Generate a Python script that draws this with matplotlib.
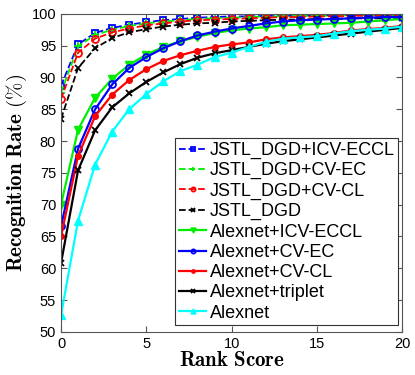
import matplotlib
matplotlib.use("Agg")
import matplotlib.pyplot as plt

plt.rcParams['font.family'] = ['Liberation Sans', 'DejaVu Sans']
plt.rcParams['mathtext.fontset'] = 'cm'

rank = list(range(21))

jstl_icv_eccl = [88.7, 95.2, 97.0, 97.8, 98.3, 98.7, 99.0, 99.2, 99.4, 99.5, 99.6,
                 99.6, 99.7, 99.7, 99.7, 99.8, 99.8, 99.8, 99.8, 99.8, 99.9]
jstl_cv_ec = [87.6, 94.9, 96.7, 97.5, 98.1, 98.5, 98.8, 99.0, 99.2, 99.3, 99.4,
              99.5, 99.6, 99.6, 99.7, 99.7, 99.7, 99.8, 99.8, 99.8, 99.8]
jstl_cv_cl = [86.6, 93.9, 96.1, 97.1, 97.7, 98.2, 98.5, 98.8, 99.0, 99.1, 99.2,
              99.3, 99.4, 99.5, 99.5, 99.6, 99.6, 99.7, 99.7, 99.7, 99.8]
jstl = [83.5, 91.5, 94.6, 96.2, 97.1, 97.6, 98.0, 98.3, 98.5, 98.6, 98.8,
        98.9, 99.0, 99.1, 99.1, 99.2, 99.2, 99.3, 99.3, 99.3, 99.4]
alex_icv_eccl = [70.0, 81.8, 86.8, 89.8, 92.0, 93.6, 94.8, 95.7, 96.4, 97.0, 97.4,
                 97.7, 97.9, 98.2, 98.3, 98.4, 98.5, 98.6, 98.8, 99.0, 99.2]
alex_cv_ec = [66.6, 78.8, 85.0, 88.9, 91.5, 93.2, 94.6, 95.7, 96.6, 97.2, 97.7,
              98.1, 98.5, 98.8, 99.0, 99.1, 99.2, 99.3, 99.4, 99.5, 99.5]
alex_cv_cl = [65.0, 77.7, 83.9, 87.3, 89.6, 91.3, 92.6, 93.5, 94.2, 94.8, 95.2,
              95.5, 96.0, 96.3, 96.5, 96.7, 97.0, 97.4, 97.6, 97.8, 98.1]
alex_triplet = [60.8, 75.4, 81.7, 85.3, 87.5, 89.3, 90.8, 92.1, 93.1, 93.8, 94.3,
                94.8, 95.3, 95.7, 96.0, 96.3, 96.6, 96.9, 97.2, 97.5, 97.8]
alex = [52.6, 67.5, 76.3, 81.5, 85.0, 87.4, 89.4, 91.0, 92.0, 93.2, 93.9,
        94.8, 95.6, 96.1, 96.3, 96.5, 96.9, 97.3, 97.5, 97.7, 98.0]

fig = plt.figure(figsize=(4.15, 3.75), dpi=100)
ax = fig.add_axes([0.147, 0.115, 0.822, 0.848])

ax.plot(rank, jstl_icv_eccl, '--s', color='blue', lw=1.3, ms=5, mfc='none', mew=1.3, label='JSTL_DGD+ICV-ECCL')
ax.plot(rank, jstl_cv_ec, '--+', color='#00ee00', lw=1.3, ms=6, mew=1.3, label='JSTL_DGD+CV-EC')
ax.plot(rank, jstl_cv_cl, '--o', color='red', lw=1.3, ms=5, mfc='none', mew=1.3, label='JSTL_DGD+CV-CL')
ax.plot(rank, jstl, '--x', color='black', lw=1.3, ms=4, mew=1.3, label='JSTL_DGD')
ax.plot(rank, alex_icv_eccl, '-v', color='#00ee00', lw=1.6, ms=6, label='Alexnet+ICV-ECCL')
ax.plot(rank, alex_cv_ec, '-o', color='blue', lw=1.6, ms=5, mfc='none', mew=1.3, label='Alexnet+CV-EC')
ax.plot(rank, alex_cv_cl, color='red', marker='.', linestyle='-', lw=1.6, ms=8, label='Alexnet+CV-CL')
ax.plot(rank, alex_triplet, '-x', color='black', lw=1.6, ms=4, mew=1.3, label='Alexnet+triplet')
ax.plot(rank, alex, '-^', color='cyan', lw=1.6, ms=6, label='Alexnet')

ax.set_xlim(0, 20)
ax.set_ylim(50, 100)
ax.set_xticks([0, 5, 10, 15, 20])
ax.set_yticks(range(50, 101, 5))
ax.tick_params(direction='in', top=True, right=True, labelsize=10.5, length=4, color='#555555')
for s in ax.spines.values():
    s.set_color('#555555')

ax.set_xlabel(r'$\mathbf{Rank\ Score}$', fontsize=15, labelpad=0)
ax.set_ylabel(r'$\mathbf{Recognition\ Rate\ (\%)}$', fontsize=15, labelpad=2)

leg = ax.legend(loc='lower right', bbox_to_anchor=(0.989, 0.021), fontsize=13,
                handlelength=1.5, handletextpad=0.2, labelspacing=0.18,
                borderpad=0.2, fancybox=False, framealpha=1, numpoints=1,
                borderaxespad=0, markerscale=0.6)
leg.get_frame().set_edgecolor('#333333')
leg.get_frame().set_linewidth(0.8)

plt.savefig("out.png", dpi=100)
